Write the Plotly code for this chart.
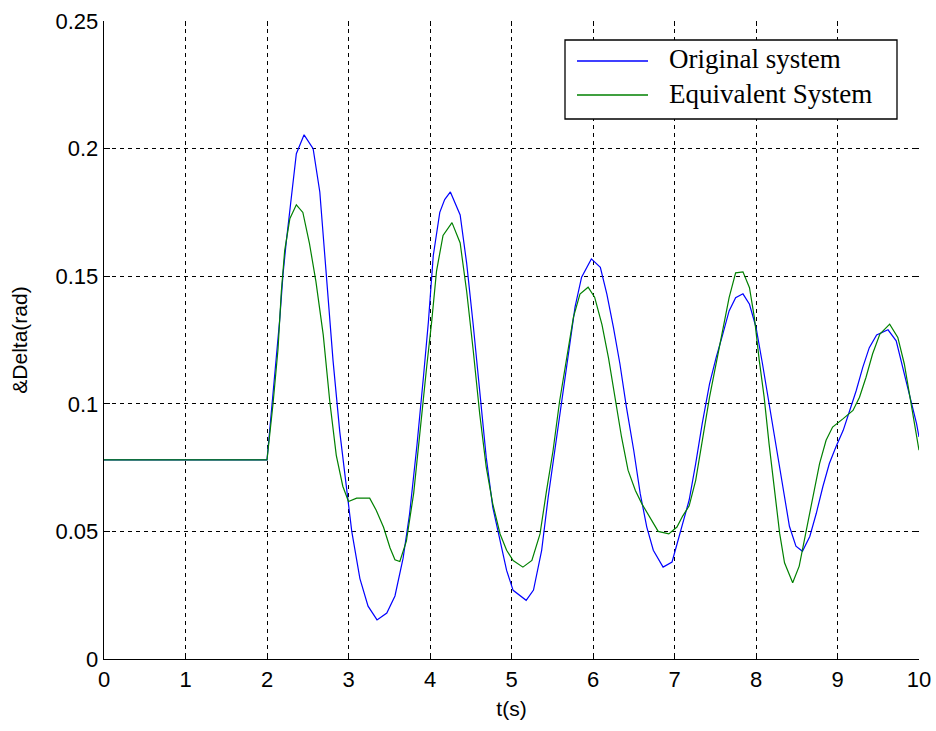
import plotly.graph_objects as go

# ---------------- data ----------------
t_original = [0, 2.0, 2.156, 2.197, 2.238, 2.3, 2.36, 2.455, 2.566, 2.648,
              2.73, 2.81, 2.893, 2.98, 3.04, 3.14, 3.24, 3.35, 3.47, 3.57,
              3.67, 3.75, 3.84, 3.92, 3.98, 4.04, 4.12, 4.18, 4.25, 4.37,
              4.45, 4.53, 4.61, 4.69, 4.77, 4.86, 4.94, 5.02, 5.18, 5.27,
              5.37, 5.45, 5.53, 5.61, 5.70, 5.78, 5.86, 5.98, 6.09, 6.17,
              6.25, 6.33, 6.41, 6.50, 6.58, 6.66, 6.74, 6.86, 6.97, 7.07,
              7.18, 7.26, 7.34, 7.43, 7.51, 7.59, 7.67, 7.75, 7.84, 7.92,
              8.0, 8.08, 8.16, 8.25, 8.33, 8.41, 8.49, 8.57, 8.66, 8.74,
              8.82, 8.90, 8.98, 9.07, 9.15, 9.23, 9.31, 9.39, 9.48, 9.62,
              9.72, 9.80, 9.89, 9.97, 10.0]
delta_original = [0.078, 0.078, 0.133, 0.151, 0.164, 0.182, 0.198, 0.2054, 0.200, 0.183,
                  0.151, 0.117, 0.089, 0.066, 0.050, 0.0315, 0.0207, 0.0153, 0.018, 0.0247,
                  0.0395, 0.057, 0.0838, 0.1107, 0.132, 0.158, 0.175, 0.180, 0.183, 0.174,
                  0.155, 0.131, 0.105, 0.079, 0.0595, 0.0465, 0.0347, 0.0269, 0.023, 0.027,
                  0.0426, 0.0634, 0.0817, 0.100, 0.121, 0.138, 0.1496, 0.1568, 0.1535, 0.143,
                  0.130, 0.1157, 0.0987, 0.0817, 0.0647, 0.0517, 0.0426, 0.036, 0.038, 0.050,
                  0.0623, 0.0766, 0.0922, 0.1078, 0.118, 0.127, 0.1364, 0.1416, 0.1431, 0.139,
                  0.130, 0.1156, 0.100, 0.0831, 0.0662, 0.052, 0.0442, 0.0422, 0.048, 0.0571,
                  0.0675, 0.0766, 0.0831, 0.0896, 0.0974, 0.1052, 0.1143, 0.122, 0.127, 0.129,
                  0.1247, 0.1143, 0.1026, 0.0922, 0.087]

t_equivalent = [0, 2.0, 2.074, 2.135, 2.176, 2.217, 2.28, 2.36, 2.44, 2.52,
                2.60, 2.69, 2.77, 2.85, 2.93, 3.0, 3.1, 3.26, 3.34, 3.43,
                3.51, 3.57, 3.63, 3.71, 3.80, 3.88, 3.96, 4.02, 4.08, 4.16,
                4.27, 4.37, 4.45, 4.53, 4.61, 4.69, 4.77, 4.86, 4.94, 5.02,
                5.14, 5.25, 5.35, 5.43, 5.51, 5.59, 5.68, 5.76, 5.84, 5.94,
                6.02, 6.11, 6.19, 6.27, 6.35, 6.43, 6.52, 6.60, 6.70, 6.80,
                6.93, 7.03, 7.10, 7.18, 7.26, 7.34, 7.43, 7.51, 7.59, 7.67,
                7.75, 7.84, 7.92, 7.98, 8.04, 8.10, 8.16, 8.23, 8.29, 8.35,
                8.45, 8.53, 8.61, 8.70, 8.78, 8.86, 8.94, 9.07, 9.19, 9.27,
                9.35, 9.43, 9.52, 9.64, 9.74, 9.82, 9.90, 10.0]
delta_equivalent = [0.078, 0.078, 0.100, 0.1214, 0.144, 0.160, 0.1725, 0.178, 0.175, 0.163,
                    0.148, 0.127, 0.101, 0.0798, 0.0677, 0.0617, 0.063, 0.063, 0.0583, 0.0516,
                    0.0435, 0.0389, 0.0382, 0.0462, 0.065, 0.0905, 0.1147, 0.132, 0.152, 0.166,
                    0.171, 0.163, 0.144, 0.121, 0.096, 0.0752, 0.0608, 0.049, 0.0426, 0.0386,
                    0.036, 0.0386, 0.049, 0.066, 0.0817, 0.101, 0.118, 0.134, 0.143, 0.1457,
                    0.1418, 0.131, 0.118, 0.1026, 0.087, 0.074, 0.066, 0.0608, 0.0556, 0.050,
                    0.049, 0.0517, 0.056, 0.060, 0.070, 0.0857, 0.1026, 0.1156, 0.1286, 0.1416,
                    0.1513, 0.1517, 0.1455, 0.1338, 0.117, 0.1026, 0.0844, 0.0662, 0.0493, 0.0377,
                    0.0299, 0.0364, 0.0493, 0.0636, 0.0766, 0.0857, 0.0909, 0.0942, 0.0974, 0.1026,
                    0.1104, 0.1195, 0.1273, 0.1312, 0.126, 0.1156, 0.1013, 0.0818]

series_names = ["Original system", "Equivalent System"]
x_tick_vals = [0, 1, 2, 3, 4, 5, 6, 7, 8, 9, 10]
x_tick_text = ["0", "1", "2", "3", "4", "5", "6", "7", "8", "9", "10"]
y_tick_vals = [0, 0.05, 0.1, 0.15, 0.2, 0.25]
y_tick_text = ["0", "0.05", "0.1", "0.15", "0.2", "0.25"]
x_title = "t(s)"
y_title = "&Delta(rad)"

# ---------------- figure ----------------
BLUE = "#0000ff"
GREEN = "#008000"
SANS = "Liberation Sans, Arial, sans-serif"
SERIF = "Liberation Serif, Times New Roman, serif"

# full-window figure; the page's default body margin is removed by a post script
FIG_W, FIG_H = 936, 731
M_L, M_R, M_T, M_B = 104, 17, 21, 72

fig = go.Figure()
fig.add_trace(go.Scatter(x=t_original, y=delta_original, mode="lines",
                         line=dict(color=BLUE, width=1.2), name=series_names[0],
                         showlegend=False))
fig.add_trace(go.Scatter(x=t_equivalent, y=delta_equivalent, mode="lines",
                         line=dict(color=GREEN, width=1.2), name=series_names[1],
                         showlegend=False))
# invisible trace to carry the mirrored tick axes (top / right)
fig.add_trace(go.Scatter(x=[None], y=[None], xaxis="x2", yaxis="y2",
                         showlegend=False, hoverinfo="skip"))

axis_common = dict(showgrid=True, gridcolor="#000000", gridwidth=1,
                   griddash="4px,4px", zeroline=False, showline=True,
                   linecolor="#000000", linewidth=1.3, ticks="inside",
                   ticklen=6, tickcolor="#000000", tickwidth=1,
                   automargin=False, ticklabeloverflow="allow",
                   tickfont=dict(family=SANS, size=22, color="#000000"))

fig.update_layout(
    width=FIG_W, height=FIG_H,
    paper_bgcolor="white", plot_bgcolor="white",
    margin=dict(l=M_L, r=M_R, t=M_T, b=M_B, pad=0, autoexpand=False),
    xaxis=dict(range=[0, 10], tickmode="array", tickvals=x_tick_vals,
               ticktext=x_tick_text,
               title=dict(text=x_title, font=dict(family=SANS, size=21, color="#000000"),
                          standoff=10),
               **axis_common),
    yaxis=dict(range=[0, 0.25], tickmode="array", tickvals=y_tick_vals,
               ticktext=y_tick_text,
               title=dict(text=y_title, font=dict(family=SANS, size=21, color="#000000"),
                          standoff=22),
               **axis_common),
    xaxis2=dict(range=[0, 10], overlaying="x", side="top", anchor="y2",
                tickmode="array", tickvals=x_tick_vals, ticks="inside",
                ticklen=5, tickcolor="#000000", showticklabels=False,
                showgrid=False, zeroline=False, showline=False, automargin=False),
    yaxis2=dict(range=[0, 0.25], overlaying="y", side="right", anchor="x2",
                tickmode="array", tickvals=y_tick_vals, ticks="inside",
                ticklen=5, tickcolor="#000000", showticklabels=False,
                showgrid=False, zeroline=False, showline=False, automargin=False),
    showlegend=False,
)

# ---------------- hand-drawn legend box (MATLAB style) ----------------
# positions given in page pixels of the plot area (left 104, right 919, top 21, bottom 659)
def px_x(p):
    return (p - 104) / 815.0

def px_y(p):
    return (659 - p) / 638.0

fig.add_shape(type="rect", xref="paper", yref="paper",
              x0=px_x(565), x1=px_x(897), y0=px_y(119), y1=px_y(40),
              line=dict(color="#000000", width=1.3), fillcolor="white", layer="above")
legend_rows = [(61, BLUE, series_names[0]), (95, GREEN, series_names[1])]
for yy, col, name in legend_rows:
    fig.add_shape(type="line", xref="paper", yref="paper",
                  x0=px_x(577), x1=px_x(648), y0=px_y(yy), y1=px_y(yy),
                  line=dict(color=col, width=1.3), layer="above")
    fig.add_annotation(xref="paper", yref="paper", x=px_x(667), y=px_y(yy - 1.5),
                       xanchor="left", yanchor="middle", showarrow=False,
                       text=name, font=dict(family=SERIF, size=27, color="#000000"))

page_fix = ("document.body.style.margin='0';"
            "document.body.style.overflow='hidden';"
            "document.documentElement.style.overflow='hidden';")
fig.write_html("out.html", post_script=page_fix,
               config={"displayModeBar": False, "staticPlot": True})
